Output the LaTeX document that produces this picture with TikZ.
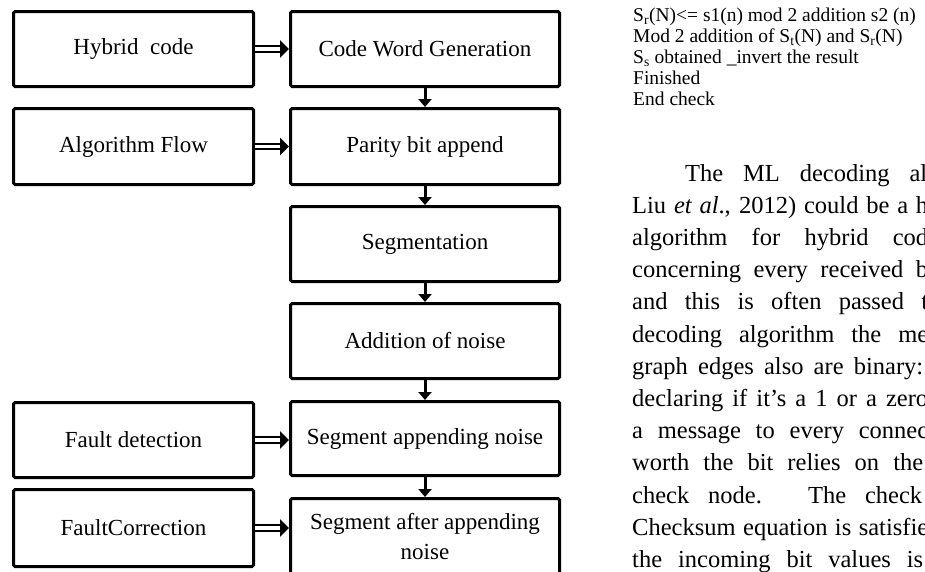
\documentclass[tikz,border=0pt]{standalone}
\usepackage{fontspec}
\setmainfont{Liberation Serif}
\usetikzlibrary{arrows.meta,calc}

\begin{document}
\begin{tikzpicture}[x=1pt,y=-1pt,
  stepbox/.style={draw, line width=3pt, rounded corners=1.5pt, inner sep=0pt,
    anchor=north west, align=center, font=\fontsize{23}{30}\selectfont},
  leftbox/.style={stepbox, minimum width=240pt},
  rightbox/.style={stepbox, minimum width=269pt},
  down/.style={line width=3pt, -{Triangle[length=8pt,width=13pt]}},
  feed/.style={double, double distance=3.5pt, line width=2.2pt,
    -{Triangle[length=9pt,width=17pt]}},
  codeline/.style={anchor=base west, inner sep=0pt, font=\fontsize{19.5}{20}\selectfont},
  paraline/.style={anchor=base west, inner sep=0pt, font=\fontsize{24.5}{30}\selectfont},
]
\useasboundingbox (0,0) rectangle (925,571);
\clip (0,0) rectangle (925,571);

% left column: inputs
\node[leftbox, minimum height=75pt] (hc) at (12,10)  {Hybrid~ code};
\node[leftbox, minimum height=76pt] (af) at (12,107) {Algorithm Flow};
\node[leftbox, minimum height=75pt] (fd) at (12,401) {Fault detection};
\node[leftbox, minimum height=77pt] (fc) at (12,488) {FaultCorrection};

% right column: processing chain
\node[rightbox, minimum height=75pt] (cw) at (289,10)  {Code Word Generation};
\node[rightbox, minimum height=76pt] (pb) at (289,107) {Parity bit append};
\node[rightbox, minimum height=75pt] (sg) at (289,205) {Segmentation};
\node[rightbox, minimum height=75pt] (an) at (289,302) {Addition of noise};
\node[rightbox, minimum height=74pt] (sa) at (289,400) {Segment appending noise};
\node[rightbox, minimum height=76pt] (sf) at (289,497) {Segment after appending\\noise};

% chain arrows
\draw[down] (cw.south) -- (pb.north);
\draw[down] (pb.south) -- (sg.north);
\draw[down] (sg.south) -- (an.north);
\draw[down] (an.south) -- (sa.north);
\draw[down] (sa.south) -- (sf.north);

% input arrows
\draw[feed] (hc.east) -- (hc.east -| cw.west);
\draw[feed] (af.east) -- (af.east -| pb.west);
\draw[feed] (fd.east) -- (fd.east -| sa.west);
\draw[feed] (fc.east) -- (fc.east -| sf.west);

% pseudo-code lines
\node[codeline] (c1) at (633,21)  {S\textsubscript{r}(N)<= s1(n) mod 2 addition s2 (n)};
\node[codeline] (c2) at (633,42)  {Mod 2 addition of S\textsubscript{t}(N) and S\textsubscript{r}(N)};
\node[codeline] (c3) at (633,63)  {S\textsubscript{s} obtained \_invert the result};
\node[codeline] (c4) at (633,84)  {Finished};
\node[codeline] (c5) at (633,105) {End check};

% body text column
\node[paraline] (p1)  at (685,181)   {\makebox[242pt][s]{The ML decoding al}};
\node[paraline] (p2)  at (632,213.2) {\makebox[296pt][s]{Liu \textit{et al}., 2012) could be a h}};
\node[paraline] (p3)  at (632,245.4) {\makebox[296pt][s]{algorithm for hybrid cod}};
\node[paraline] (p4)  at (632,277.6) {\makebox[296pt][s]{concerning every received b}};
\node[paraline] (p5)  at (632,309.8) {\makebox[296pt][s]{and this is often passed t}};
\node[paraline] (p6)  at (632,342)   {\makebox[296pt][s]{decoding algorithm the me}};
\node[paraline] (p7)  at (632,374.2) {\makebox[291pt][s]{graph edges also are binary:}};
\node[paraline] (p8)  at (632,406.4) {\makebox[296pt][s]{declaring if it's a 1 or a zero}};
\node[paraline] (p9)  at (632,438.6) {\makebox[296pt][s]{a message to every connec}};
\node[paraline] (p10) at (632,470.8) {\makebox[291pt][s]{worth the bit relies on the}};
\node[paraline] (p11) at (632,503)   {\makebox[290pt][s]{check node. The check}};
\node[paraline] (p12) at (632,535.2) {\makebox[296pt][s]{Checksum equation is satisfie}};
\node[paraline] (p13) at (632,567.4) {\makebox[291pt][s]{the incoming bit values is}};
\end{tikzpicture}
\end{document}
